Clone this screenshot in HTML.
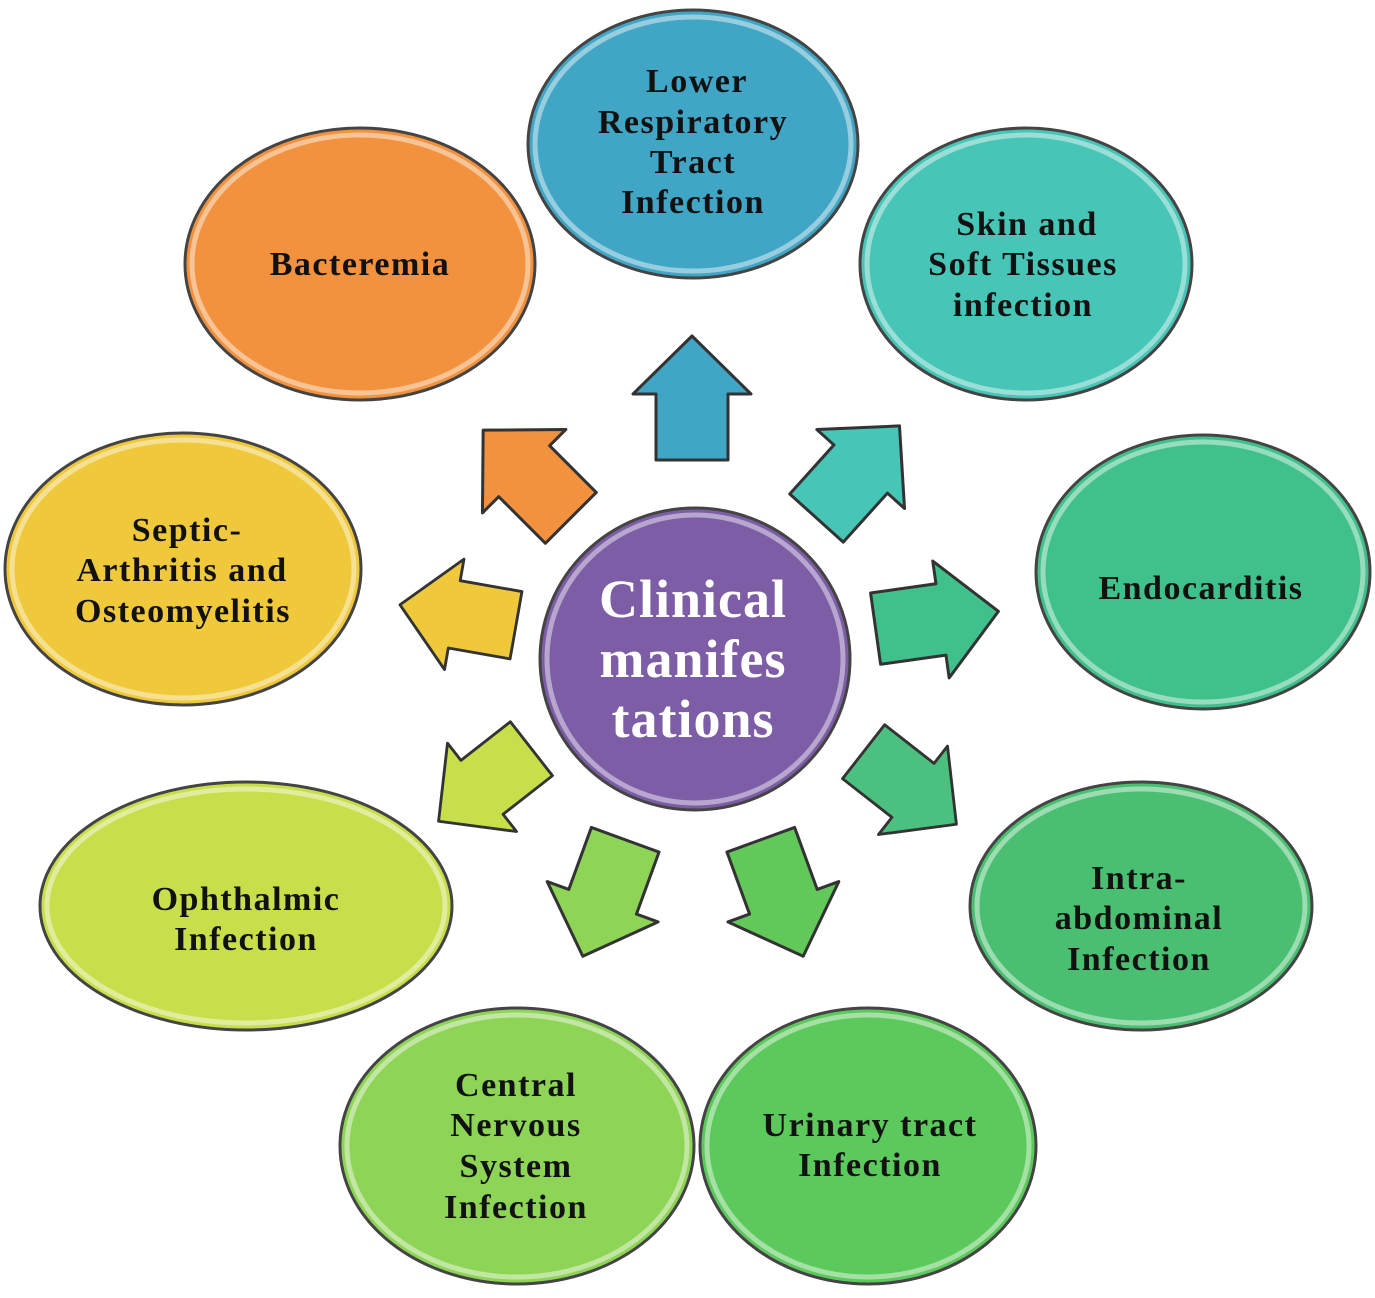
<!DOCTYPE html>
<html><head><meta charset="utf-8"><style>
html,body{margin:0;padding:0;background:#fff}
svg{display:block}
text{font-family:"Liberation Serif",serif;font-weight:bold;fill:#111;text-anchor:middle}
</style></head><body>
<svg width="1375" height="1298" viewBox="0 0 1375 1298" xmlns="http://www.w3.org/2000/svg">
<defs>
<polygon id="ar" points="0,-62 59,-4 36,-4 36,62 -36,62 -36,-4 -59,-4"/>
</defs>
<g stroke="#444" stroke-width="3">
<ellipse cx="693" cy="144" rx="165" ry="134" fill="#41A6C6"/>
<ellipse cx="360" cy="264" rx="175" ry="136" fill="#F2923F"/>
<ellipse cx="1026" cy="264" rx="166" ry="136" fill="#47C5B7"/>
<ellipse cx="183" cy="569" rx="178" ry="136" fill="#EFC93B"/>
<ellipse cx="1203" cy="572" rx="167" ry="137" fill="#40C18B"/>
<ellipse cx="246" cy="906" rx="206" ry="124" fill="#C8DE4B"/>
<ellipse cx="1141" cy="906" rx="171" ry="124" fill="#4ABF71"/>
<ellipse cx="517" cy="1146" rx="177" ry="138" fill="#8ED456"/>
<ellipse cx="868" cy="1146" rx="168" ry="138" fill="#5BC95B"/>
<ellipse cx="695" cy="659" rx="155" ry="151" fill="#7C5DA6"/>
</g>
<g fill="none" stroke="#fff" stroke-opacity="0.45" stroke-width="5">
<ellipse cx="693" cy="144" rx="158" ry="127"/>
<ellipse cx="360" cy="264" rx="168" ry="129"/>
<ellipse cx="1026" cy="264" rx="159" ry="129"/>
<ellipse cx="183" cy="569" rx="171" ry="129"/>
<ellipse cx="1203" cy="572" rx="160" ry="130"/>
<ellipse cx="246" cy="906" rx="199" ry="117"/>
<ellipse cx="1141" cy="906" rx="164" ry="117"/>
<ellipse cx="517" cy="1146" rx="170" ry="131"/>
<ellipse cx="868" cy="1146" rx="161" ry="131"/>
<ellipse cx="695" cy="659" rx="148" ry="144"/>
</g>
<g stroke="#333" stroke-width="3" stroke-linejoin="round">
<use href="#ar" transform="translate(692,398)" fill="#41A6C6"/>
<use href="#ar" transform="translate(858,472) rotate(42)" fill="#47C5B7"/>
<use href="#ar" transform="translate(527,474) rotate(-45)" fill="#F2923F"/>
<use href="#ar" transform="translate(937,620) rotate(82)" fill="#40C18B"/>
<use href="#ar" transform="translate(458,615) rotate(-80) scale(0.95)" fill="#EFC93B"/>
<use href="#ar" transform="translate(910,788) rotate(128) scale(0.95)" fill="#4CC07E"/>
<use href="#ar" transform="translate(485,785) rotate(-128) scale(0.95)" fill="#C8DE4B"/>
<use href="#ar" transform="translate(604,898) rotate(-160)" fill="#8ED456"/>
<use href="#ar" transform="translate(782,898) rotate(160)" fill="#62C85A"/>
</g>
<g font-size="34" letter-spacing="1.5">
<text x="697" y="92">Lower</text>
<text x="693" y="133">Respiratory</text>
<text x="693" y="173">Tract</text>
<text x="693" y="213">Infection</text>
<text x="360" y="275">Bacteremia</text>
<text x="1027" y="235">Skin  and</text>
<text x="1023" y="275">Soft Tissues</text>
<text x="1023" y="316">infection</text>
<text x="187" y="541">Septic-</text>
<text x="182" y="581">Arthritis  and</text>
<text x="183" y="622">Osteomyelitis</text>
<text x="1201" y="599">Endocarditis</text>
<text x="246" y="910">Ophthalmic</text>
<text x="246" y="950">Infection</text>
<text x="1139" y="889">Intra-</text>
<text x="1139" y="929">abdominal</text>
<text x="1139" y="970">Infection</text>
<text x="516" y="1096">Central</text>
<text x="516" y="1136">Nervous</text>
<text x="516" y="1177">System</text>
<text x="516" y="1218">Infection</text>
<text x="870" y="1136">Urinary  tract</text>
<text x="870" y="1176">Infection</text>
</g>
<g font-size="54" letter-spacing="1">
<text x="693" y="617" style="fill:#fff">Clinical</text>
<text x="693" y="677" style="fill:#fff">manifes</text>
<text x="693" y="737" style="fill:#fff">tations</text>
</g>
</svg>
</body></html>
